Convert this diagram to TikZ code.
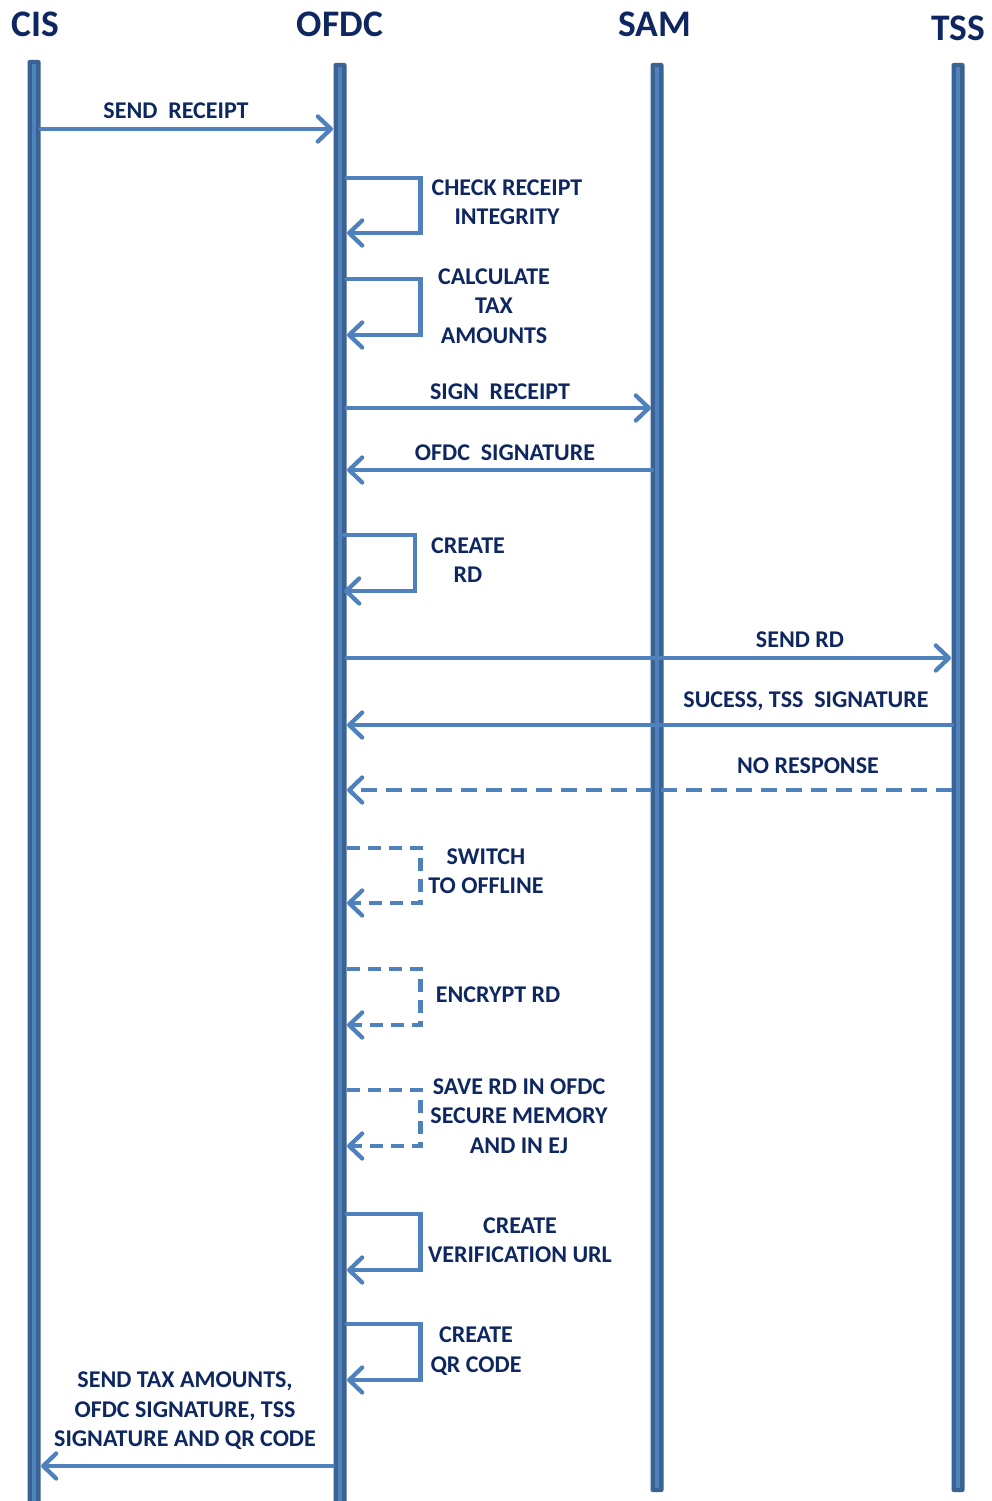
\documentclass[tikz,border=0pt]{standalone}
\usepackage{fontspec}
\setmainfont{Carlito}
\usetikzlibrary{arrows.meta}
\definecolor{barouter}{HTML}{3A6293}
\definecolor{barinner}{HTML}{4F81BD}
\definecolor{msg}{HTML}{4F81BD}
\definecolor{ink}{HTML}{0E2760}
\tikzset{
  head/.style={font=\fontsize{37.5}{37.5}\selectfont\bfseries, text=ink, inner sep=0pt},
  lbl/.style={font=\fontsize{24}{29.5}\selectfont\bfseries, text=ink, inner sep=0pt, align=center},
  msgline/.style={draw=msg, line width=4.3pt, line cap=round, line join=miter,
    -{Straight Barb[length=13pt,width=25pt,round]}},
  dashedmsg/.style={msgline, dash pattern=on 16pt off 9pt, line cap=butt},
  dashedloop/.style={msgline, dash pattern=on 13pt off 8pt, line cap=butt},
}
\newcommand{\lifebar}[3]{% x, top, bottom
  \fill[barouter, rounded corners=2pt] (#1-6.5,#2) rectangle (#1+6.5,#3);
  \fill[barinner] (#1-2.5,#2+4) rectangle (#1+2,#3-4);
}
\begin{document}
\begin{tikzpicture}[x=1pt,y=-1pt]
\useasboundingbox (0,0) rectangle (992,1501);

% participants
\node[head] (cis)  at (35,24)  {CIS};
\node[head] (ofdc) at (340,24) {OFDC};
\node[head] (sam)  at (655,24) {SAM};
\node[head] (tss)  at (958,28) {TSS};

% lifelines
\lifebar{34}{60}{1508}
\lifebar{340}{63}{1508}
\lifebar{657}{63}{1492}
\lifebar{958}{63}{1492}

% send receipt
\coordinate (m1s) at (40.5,129);
\coordinate (m1e) at (333,129);
\draw[msgline] (m1s) -- (m1e);
\node[lbl] (l1) at (176,111) {SEND\ \ RECEIPT};

% check receipt integrity
\coordinate (s2s) at (346.5,178);
\coordinate (s2e) at (347,233);
\draw[msgline] (s2s) -- ++(74,0) |- (s2e);
\node[lbl] (l2) at (507,202) {CHECK RECEIPT\\INTEGRITY};

% calculate tax amounts
\coordinate (s3s) at (346.5,279);
\coordinate (s3e) at (347,335);
\draw[msgline] (s3s) -- ++(74,0) |- (s3e);
\node[lbl] (l3) at (494,306) {CALCULATE\\TAX\\AMOUNTS};

% sign receipt
\coordinate (m4s) at (346.5,408);
\coordinate (m4e) at (651,408);
\draw[msgline] (m4s) -- (m4e);
\node[lbl] (l4) at (500,392) {SIGN\ \ RECEIPT};

% ofdc signature
\coordinate (m5s) at (652,470);
\coordinate (m5e) at (347,470);
\draw[msgline] (m5s) -- (m5e);
\node[lbl] (l5) at (505,453) {OFDC\ \ SIGNATURE};

% create rd
\coordinate (s6s) at (344,535);
\coordinate (s6e) at (344,591);
\draw[msgline] (s6s) -- ++(71,0) |- (s6e);
\node[lbl] (l6) at (468,560) {CREATE\\RD};

% send rd
\coordinate (m7s) at (346.5,658);
\coordinate (m7e) at (951,658);
\draw[msgline] (m7s) -- (m7e);
\node[lbl] (l7) at (800,640) {SEND RD};

% success, tss signature
\coordinate (m8s) at (952,725);
\coordinate (m8e) at (347,725);
\draw[msgline] (m8s) -- (m8e);
\node[lbl] (l8) at (806,701) {SUCESS, TSS\ \ SIGNATURE};

% no response
\coordinate (m9s) at (952,790);
\coordinate (m9e) at (347,790);
\draw[dashedmsg] (m9s) -- (m9e);
\node[lbl] (l9) at (808,766) {NO RESPONSE};

% switch to offline
\coordinate (s10s) at (346.5,848);
\coordinate (s10e) at (347,903);
\draw[dashedloop] (s10s) -- ++(74,0) |- (s10e);
\node[lbl] (l10) at (486,871) {SWITCH\\TO OFFLINE};

% encrypt rd
\coordinate (s11s) at (346.5,969);
\coordinate (s11e) at (347,1025);
\draw[dashedloop] (s11s) -- ++(74,0) |- (s11e);
\node[lbl] (l11) at (498,995) {ENCRYPT RD};

% save rd
\coordinate (s12s) at (346.5,1090);
\coordinate (s12e) at (347,1146);
\draw[dashedloop] (s12s) -- ++(74,0) |- (s12e);
\node[lbl] (l12) at (519,1116) {SAVE RD IN OFDC\\SECURE MEMORY\\AND IN EJ};

% create verification url
\coordinate (s13s) at (346.5,1214);
\coordinate (s13e) at (347,1270);
\draw[msgline] (s13s) -- ++(74,0) |- (s13e);
\node[lbl] (l13) at (520,1240) {CREATE\\VERIFICATION URL};

% create qr code
\coordinate (s14s) at (346.5,1324);
\coordinate (s14e) at (347,1380);
\draw[msgline] (s14s) -- ++(74,0) |- (s14e);
\node[lbl] (l14) at (476,1351) {CREATE\\QR CODE};

% final response
\coordinate (m15s) at (333,1466);
\coordinate (m15e) at (41,1466);
\draw[msgline] (m15s) -- (m15e);
\node[lbl] (l15) at (185,1411) {SEND TAX AMOUNTS,\\OFDC SIGNATURE, TSS\\SIGNATURE AND QR CODE};

\end{tikzpicture}
\end{document}
